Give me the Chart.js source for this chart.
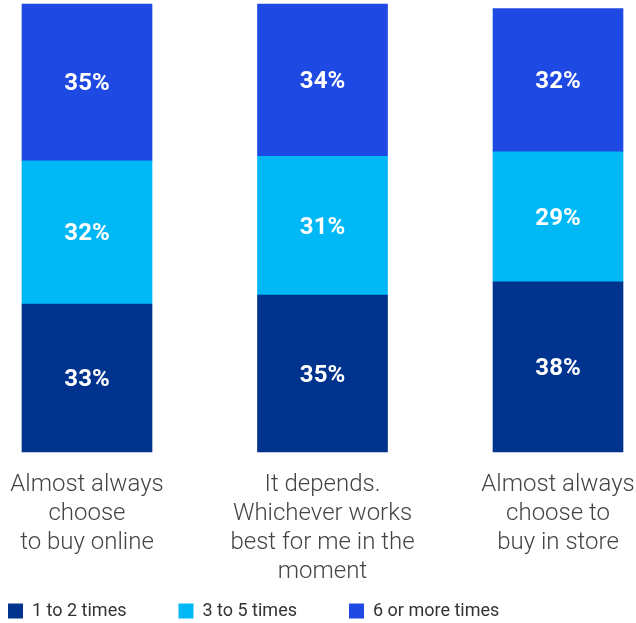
<!DOCTYPE html>
<html>
<head>
<meta charset="utf-8">
<script src="https://cdn.jsdelivr.net/npm/chart.js@4/dist/chart.umd.min.js"></script>
<style>
  html, body { margin: 0; padding: 0; background: #ffffff; }
  #wrap { width: 636px; height: 623px; }
</style>
</head>
<body>
<div id="wrap"><canvas id="chart" width="636" height="623"></canvas></div>
<script>
// Purchase channel preference (categories) split by purchase frequency (series)
const categories = [
  ["Almost always", "choose", "to buy online"],
  ["It depends.", "Whichever works", "best for me in the", "moment"],
  ["Almost always", "choose to", "buy in store"]
];
const seriesNames = ["1 to 2 times", "3 to 5 times", "6 or more times"];
const oneToTwoTimes = [33, 35, 38];
const threeToFiveTimes = [32, 31, 29];
const sixOrMoreTimes = [35, 34, 32];
const seriesColors = ["#00338D", "#00B8F5", "#1E49E2"];

// White percentage labels centred inside each stacked segment
const segmentLabels = {
  id: 'segmentLabels',
  afterDatasetsDraw(chart) {
    const ctx = chart.ctx;
    ctx.save();
    ctx.fillStyle = '#ffffff';
    ctx.font = '700 24px Roboto';
    ctx.textAlign = 'center';
    ctx.textBaseline = 'middle';
    chart.data.datasets.forEach((ds, di) => {
      const meta = chart.getDatasetMeta(di);
      meta.data.forEach((bar, i) => {
        const v = ds.data[i];
        ctx.fillText(v + '%', bar.x, (bar.y + bar.base) / 2 + 2);
      });
    });
    ctx.restore();
  }
};

// Nudge the legend row to sit flush with the left edge and near the bottom
const legendPlacement = {
  id: 'legendPlacement',
  afterLayout(chart) {
    if (chart.legend) {
      chart.legend.left -= 44;
      chart.legend.top -= 33;
    }
  }
};

const datasets = [oneToTwoTimes, threeToFiveTimes, sixOrMoreTimes].map((values, i) => ({
  label: seriesNames[i],
  data: values,
  backgroundColor: seriesColors[i],
  borderWidth: 0,
  barThickness: 130,
  clip: false
}));

new Chart(document.getElementById('chart'), {
  type: 'bar',
  data: { labels: categories, datasets },
  plugins: [segmentLabels, legendPlacement],
  options: {
    responsive: false,
    animation: false,
    layout: { padding: { top: 4, right: 78, bottom: 0, left: 0 } },
    scales: {
      x: {
        stacked: true,
        offset: false,
        grid: { display: false, drawTicks: false },
        border: { display: false },
        ticks: {
          color: '#444444',
          font: { family: 'Roboto', size: 24, weight: '300', lineHeight: '29px' },
          padding: 18,
          maxRotation: 0,
          autoSkip: false
        },
        afterFit(scale) {
          scale.height = 131;
          scale.paddingLeft = 0;
          scale.paddingRight = 0;
        }
      },
      y: {
        stacked: true,
        min: 0,
        max: 100,
        grid: { display: false, drawTicks: false },
        border: { display: false },
        ticks: { display: false },
        afterFit(scale) { scale.width = 87; }
      }
    },
    plugins: {
      tooltip: { enabled: false },
      legend: {
        position: 'bottom',
        align: 'start',
        maxHeight: 40,
        labels: {
          boxWidth: 15,
          boxHeight: 15,
          padding: 52,
          color: '#333333',
          font: { family: 'Roboto', size: 18 }
        }
      }
    }
  }
});
</script>
</body>
</html>
